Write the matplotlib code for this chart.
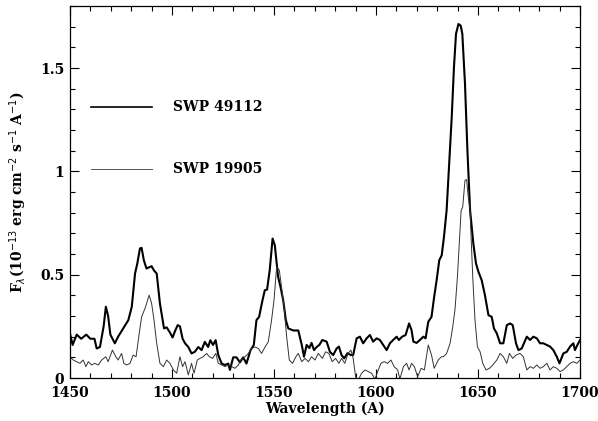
import numpy as np
import matplotlib
matplotlib.use('Agg')
import matplotlib.pyplot as plt
from matplotlib.ticker import MultipleLocator, FixedLocator, FixedFormatter

# SWP 49112 (thick line)
wl_49112 = [1450, 1451.3, 1453.3, 1455.5, 1458, 1460, 1462, 1463.1, 1464.7, 1466.5, 1467.6,
            1468.7, 1469.8, 1472, 1473.6, 1476.1, 1478.6, 1480.3, 1481.9, 1483, 1484.3,
            1485.1, 1486.2, 1487.5, 1488.6, 1490, 1491.2, 1492.5, 1494.1, 1496.1, 1497.4,
            1499, 1500.3, 1501.4, 1502.8, 1503.9, 1505.2, 1506.4, 1508, 1509.6, 1511.2,
            1512.9, 1514.5, 1516.1, 1517.7, 1518.8, 1520.1, 1521.4, 1522.7, 1524.3, 1525.9,
            1527.6, 1528.4, 1530, 1531.6, 1533.3, 1534.9, 1536.5, 1538.5, 1540.1, 1541.4,
            1542.7, 1544.2, 1545.5, 1546.6, 1547.9, 1549.3, 1550.4, 1552, 1553.2, 1554.5,
            1555.8, 1557, 1559.5, 1561.9, 1563.6, 1564.7, 1566, 1567.3, 1568.4, 1569.6,
            1570.9, 1572.2, 1573.7, 1575.8, 1577.4, 1579, 1580.7, 1581.8, 1583.1, 1584.4,
            1586, 1587.7, 1588.8, 1590.5, 1592.1, 1593.7, 1595.4, 1597, 1598.6, 1600.3,
            1601.9, 1603.5, 1605.2, 1606.8, 1608.4, 1610.1, 1611.2, 1612.8, 1614.5, 1616.2,
            1617.4, 1618.3, 1619.9, 1621.5, 1623.2, 1624.3, 1625.6, 1627.2, 1628.5, 1629.7,
            1631, 1632.2, 1633.3, 1634.6, 1637.1, 1638.2, 1639.2, 1640.4, 1641.5, 1642.3,
            1643.6, 1644.8, 1646.1, 1647.7, 1649, 1650.2, 1651.8, 1653.4, 1655.1, 1656.7,
            1657.8, 1659.2, 1660.8, 1662.4, 1664.1, 1665.7, 1667, 1668.6, 1669.8, 1671.4,
            1672.5, 1673.9, 1675.5, 1677.1, 1678.8, 1680.4, 1682, 1683.7, 1685.3, 1686.9,
            1688.6, 1689.9, 1691.8, 1693.5, 1695.1, 1696.7, 1697.5, 1698.7, 1700]
fx_49112 = [0.216, 0.16, 0.21, 0.19, 0.21, 0.19, 0.19, 0.143, 0.15, 0.25, 0.345,
            0.30, 0.21, 0.168, 0.20, 0.24, 0.28, 0.345, 0.506, 0.554, 0.627,
            0.63, 0.57, 0.53, 0.535, 0.541, 0.52, 0.506, 0.36, 0.24, 0.245,
            0.22, 0.196, 0.225, 0.256, 0.25, 0.19, 0.168, 0.15, 0.119, 0.127,
            0.15, 0.135, 0.175, 0.15, 0.183, 0.16, 0.183, 0.111, 0.071, 0.063,
            0.07, 0.039, 0.10, 0.10, 0.076, 0.10, 0.07, 0.135, 0.16, 0.28,
            0.296, 0.369, 0.425, 0.428, 0.522, 0.675, 0.642, 0.49, 0.44, 0.377,
            0.28, 0.24, 0.23, 0.23, 0.16, 0.103, 0.16, 0.145, 0.17, 0.135,
            0.15, 0.16, 0.184, 0.176, 0.127, 0.111, 0.143, 0.152, 0.111, 0.095,
            0.12, 0.111, 0.111, 0.192, 0.20, 0.168, 0.192, 0.208, 0.176, 0.192,
            0.184, 0.16, 0.135, 0.168, 0.184, 0.20, 0.184, 0.20, 0.208, 0.264,
            0.232, 0.176, 0.17, 0.184, 0.20, 0.192, 0.272, 0.296, 0.393, 0.473,
            0.57, 0.594, 0.683, 0.812, 1.262, 1.504, 1.665, 1.713, 1.705, 1.665,
            1.424, 1.10, 0.812, 0.65, 0.554, 0.514, 0.473, 0.40, 0.304, 0.296,
            0.24, 0.216, 0.168, 0.168, 0.256, 0.264, 0.256, 0.168, 0.135, 0.143,
            0.168, 0.20, 0.184, 0.20, 0.192, 0.168, 0.168, 0.16, 0.152, 0.135,
            0.103, 0.071, 0.119, 0.127, 0.152, 0.168, 0.135, 0.16, 0.184]

# SWP 19905 (thin line)
wl_19905 = [1450, 1451.6, 1453.3, 1454.9, 1456.5, 1457.8, 1459, 1460.6, 1462.2, 1463.9,
            1465.5, 1467.6, 1468.7, 1470.8, 1472.5, 1473.6, 1475.3, 1476.4, 1477.8, 1479.4,
            1481, 1482.4, 1483.5, 1485.1, 1486.8, 1488.8, 1490, 1491.2, 1492.5, 1494.1,
            1495.8, 1497.4, 1499, 1500.7, 1502.3, 1503.9, 1505.2, 1506.4, 1508, 1509.6,
            1510.8, 1512.4, 1513.7, 1515.3, 1517, 1518.3, 1519.9, 1521.5, 1522.7, 1524.3,
            1526, 1527.6, 1529.2, 1530.9, 1532.5, 1534.2, 1535.8, 1537.4, 1539, 1540.7,
            1542.3, 1543.9, 1545.6, 1547.2, 1548.8, 1550, 1551.3, 1552.6, 1553.7, 1554.9,
            1556.2, 1557.5, 1559.1, 1560.7, 1561.9, 1563.6, 1565.2, 1566.9, 1568.4, 1570.1,
            1571.7, 1573.7, 1575.3, 1576.9, 1578.5, 1580.2, 1581.8, 1583.1, 1584.7, 1586.3,
            1587.7, 1588.8, 1590, 1591.3, 1592.9, 1594.6, 1596.2, 1597.8, 1599.5, 1601.1,
            1602.4, 1604, 1605.7, 1607.3, 1608.9, 1610.6, 1611.7, 1613.4, 1615, 1616.2,
            1617.4, 1618.8, 1620.4, 1622.1, 1623.7, 1625.6, 1627.2, 1628.5, 1630.5, 1632.1,
            1633, 1634.6, 1636.3, 1637.6, 1638.7, 1639.9, 1640.8, 1641.7, 1642.5, 1643.6,
            1644.4, 1645.2, 1646.1, 1646.4, 1647.4, 1648.5, 1649.7, 1651, 1652.3, 1653.9,
            1655.6, 1657.2, 1659.2, 1660.8, 1662.4, 1664.1, 1665.4, 1667, 1668.6, 1670.6,
            1672.2, 1673.9, 1675.5, 1677.1, 1678.8, 1680.4, 1682, 1683.7, 1685.3, 1686.9,
            1688.6, 1690.2, 1691.8, 1693.5, 1695.1, 1696.7, 1698.4, 1700]
fx_19905 = [0.103, 0.087, 0.079, 0.071, 0.087, 0.055, 0.079, 0.063, 0.071, 0.063,
            0.087, 0.103, 0.079, 0.135, 0.103, 0.087, 0.119, 0.071, 0.063, 0.071,
            0.111, 0.103, 0.184, 0.296, 0.337, 0.401, 0.362, 0.28, 0.168, 0.071,
            0.055, 0.087, 0.071, 0.039, 0.023, 0.103, 0.055, 0.079, 0.015, 0.071,
            0.023, 0.087, 0.095, 0.103, 0.119, 0.103, 0.095, 0.119, 0.071, 0.063,
            0.055, 0.063, 0.055, 0.047, 0.063, 0.095, 0.103, 0.119, 0.143, 0.15,
            0.143, 0.119, 0.15, 0.175, 0.28, 0.377, 0.538, 0.522, 0.44, 0.345,
            0.20, 0.087, 0.071, 0.103, 0.119, 0.079, 0.095, 0.079, 0.103, 0.087,
            0.119, 0.095, 0.127, 0.119, 0.079, 0.095, 0.071, 0.095, 0.071, 0.119,
            0.135, 0.095, 0.006, -0.01, 0.023, 0.039, 0.031, 0.023, -0.005, 0.039,
            0.071, 0.079, 0.071, 0.087, 0.055, 0.039, -0.005, 0.055, 0.071, 0.039,
            0.071, 0.055, 0.006, 0.047, 0.039, 0.16, 0.111, 0.047, 0.087, 0.103,
            0.103, 0.119, 0.168, 0.248, 0.33, 0.49, 0.65, 0.81, 0.828, 0.957,
            0.96, 0.876, 0.81, 0.73, 0.49, 0.28, 0.151, 0.127, 0.071, 0.039,
            0.047, 0.063, 0.087, 0.119, 0.103, 0.071, 0.119, 0.095, 0.111, 0.119,
            0.103, 0.039, 0.055, 0.047, 0.063, 0.047, 0.055, 0.071, 0.039, 0.055,
            0.047, 0.031, 0.039, 0.055, 0.071, 0.079, 0.071, 0.087]

labels = ['SWP 49112', 'SWP 19905']
yticks = [0, 0.5, 1, 1.5]
ytick_labels = ['0', '0.5', '1', '1.5']

font = {'family': 'DejaVu Serif', 'weight': 'bold', 'size': 10}

fig = plt.figure(figsize=(5.98, 4.21), dpi=100)
ax = fig.add_axes([0.117, 0.1021, 0.853, 0.8836])

ax.plot(wl_49112, fx_49112, color='black', lw=1.5)
ax.plot(wl_19905, fx_19905, color='#333333', lw=0.7)

# legend keys
ax.plot([0.041, 0.161], [0.728, 0.728], color='black', lw=1.2, transform=ax.transAxes)
ax.plot([0.041, 0.161], [0.562, 0.562], color='#555555', lw=0.7, transform=ax.transAxes)
ax.text(0.202, 0.728, labels[0], transform=ax.transAxes, va='center', fontdict=font)
ax.text(0.202, 0.562, labels[1], transform=ax.transAxes, va='center', fontdict=font)

ax.set_xlim(1450, 1700)
ax.set_ylim(0, 1.8)
ax.xaxis.set_major_locator(MultipleLocator(50))
ax.xaxis.set_minor_locator(MultipleLocator(10))
ax.yaxis.set_major_locator(FixedLocator(yticks))
ax.yaxis.set_major_formatter(FixedFormatter(ytick_labels))
ax.yaxis.set_minor_locator(MultipleLocator(0.1))
ax.tick_params(which='both', direction='in', top=True, right=True, width=0.8)
ax.tick_params(which='major', length=6.5)
ax.tick_params(which='minor', length=3.6)
ax.tick_params(axis='x', pad=6)
ax.tick_params(axis='y', pad=4)
for lab in ax.get_xticklabels() + ax.get_yticklabels():
    lab.set_fontfamily('DejaVu Serif')
    lab.set_fontweight('bold')
    lab.set_fontsize(10)
for s in ax.spines.values():
    s.set_linewidth(0.9)

ax.set_xlabel('Wavelength (A)', fontdict=font, labelpad=1)
ax.set_ylabel(r'F$_\lambda$(10$^{-13}$ erg cm$^{-2}$ s$^{-1}$ A$^{-1}$)', fontdict=font, labelpad=8)

fig.savefig('out.png', dpi=100)
